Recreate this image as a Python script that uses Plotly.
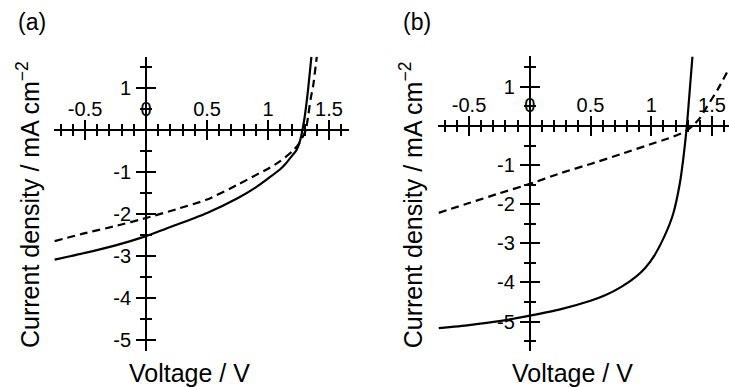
import plotly.graph_objects as go

# ---------------- data ----------------
# Panel (a)
a_solid_v = [-0.75, -0.5, -0.25, 0.0, 0.25, 0.5, 0.75, 0.9, 1.0, 1.1, 1.15, 1.2, 1.233, 1.26, 1.282, 1.30, 1.328, 1.356]
a_solid_j = [-3.08, -2.92, -2.74, -2.52, -2.25, -1.97, -1.62, -1.36, -1.15, -0.93, -0.78, -0.60, -0.48, -0.28, 0.0, 0.30, 0.95, 1.745]
a_dash_v = [-0.75, -0.5, -0.25, 0.0, 0.25, 0.5, 0.75, 0.9, 1.0, 1.1, 1.2, 1.25, 1.29, 1.31, 1.33, 1.35, 1.37, 1.40]
a_dash_j = [-2.64, -2.45, -2.28, -2.09, -1.88, -1.65, -1.30, -1.07, -0.92, -0.74, -0.50, -0.34, -0.13, 0.0, 0.35, 0.75, 1.05, 1.745]

# Panel (b)
b_solid_v = [-0.75, -0.5, -0.25, 0.0, 0.25, 0.5, 0.62, 0.75, 0.875, 0.95, 1.02, 1.11, 1.18, 1.235, 1.265, 1.293, 1.316, 1.339]
b_solid_j = [-5.17, -5.09, -4.99, -4.85, -4.69, -4.47, -4.33, -4.12, -3.85, -3.63, -3.34, -2.81, -2.25, -1.47, -0.80, 0.0, 0.88, 1.77]
b_dash_v = [-0.75, -0.5, -0.25, 0.0, 0.25, 0.5, 0.75, 1.0, 1.12, 1.2, 1.284, 1.34, 1.40, 1.46, 1.55, 1.64]
b_dash_j = [-2.22, -1.97, -1.72, -1.48, -1.21, -0.97, -0.72, -0.46, -0.34, -0.25, -0.13, 0.0, 0.20, 0.50, 0.95, 1.47]

# tick labels
x_tickvals = [-0.5, 0, 0.5, 1, 1.5]
x_ticktext = ["-0.5", "0", "0.5", "1", "1.5"]
y_tickvals_a = [1, -1, -2, -3, -4, -5]
y_ticktext_a = ["1", "-1", "-2", "-3", "-4", "-5"]
y_tickvals_b = [1, -1, -2, -3, -4, -5]
y_ticktext_b = ["1", "-1", "-2", "-3", "-4", "-5"]

x_title = "Voltage / V"
y_title = "Current density / mA cm<sup>\u22122</sup>"
panel_labels = ["(a)", "(b)"]

# ---------------- layout geometry ----------------
W, H = 729, 387
FONT = "Liberation Sans, Arial, Helvetica, sans-serif"

def px_x(p):
    return p / W

def px_y(p):
    return 1 - p / H

xr_a = [-0.755, 1.66]
yr_a = [-5.24, 1.745]
xd_a = [px_x(54), px_x(348.5)]
yd_a = [px_y(350.5), px_y(56.7)]

xr_b = [-0.753, 1.64]
yr_b = [-5.74, 1.79]
xd_b = [px_x(438.3), 1.0]
yd_b = [px_y(350.5), px_y(56)]


def zero_pos(rng, dom):
    return dom[0] + (0 - rng[0]) / (rng[1] - rng[0]) * (dom[1] - dom[0])


def minor_vals(rng, step):
    n0 = int(rng[0] / step) - 1
    n1 = int(rng[1] / step) + 1
    return [round(k * step, 6) for k in range(n0, n1 + 1) if rng[0] <= k * step <= rng[1]]


MAJ_LEN = 9
MIN_LEN = 5
TW = 2
tickfont = dict(family=FONT, size=20, color="black")


def xaxis_main(rng, dom, pos, tv, tt):
    return dict(range=rng, domain=dom, anchor="free", position=pos, side="top",
                showline=True, linewidth=2, linecolor="black",
                showgrid=False, zeroline=False,
                tickmode="array", tickvals=tv, ticktext=tt,
                ticks="outside", ticklen=MAJ_LEN, tickwidth=TW, tickcolor="black",
                tickfont=tickfont, ticklabelstandoff=-4,
                minor=dict(tickmode="array", tickvals=minor_vals(rng, 0.1),
                           ticks="outside", ticklen=MIN_LEN, tickwidth=TW, tickcolor="black",
                           showgrid=False),
                fixedrange=True)


def xaxis_over(over, rng, pos, tv):
    return dict(range=rng, overlaying=over, anchor="free", position=pos, side="bottom",
                showline=False, showgrid=False, zeroline=False,
                tickmode="array", tickvals=tv, showticklabels=False,
                ticks="outside", ticklen=MAJ_LEN, tickwidth=TW, tickcolor="black",
                minor=dict(tickmode="array", tickvals=minor_vals(rng, 0.1),
                           ticks="outside", ticklen=MIN_LEN, tickwidth=TW, tickcolor="black",
                           showgrid=False),
                fixedrange=True)


def yaxis_main(rng, dom, pos, tv, tt):
    return dict(range=rng, domain=dom, anchor="free", position=pos, side="left",
                showline=True, linewidth=2, linecolor="black",
                showgrid=False, zeroline=False,
                tickmode="array", tickvals=tv, ticktext=tt,
                ticks="outside", ticklen=MAJ_LEN, tickwidth=TW, tickcolor="black",
                tickfont=tickfont, ticklabelstandoff=1,
                minor=dict(tickmode="array", tickvals=minor_vals(rng, 0.5),
                           ticks="outside", ticklen=MIN_LEN, tickwidth=TW, tickcolor="black",
                           showgrid=False),
                fixedrange=True)


def yaxis_over(over, rng, pos, tv):
    return dict(range=rng, overlaying=over, anchor="free", position=pos, side="right",
                showline=False, showgrid=False, zeroline=False,
                tickmode="array", tickvals=tv, showticklabels=False,
                ticks="outside", ticklen=MAJ_LEN, tickwidth=TW, tickcolor="black",
                minor=dict(tickmode="array", tickvals=minor_vals(rng, 0.5),
                           ticks="outside", ticklen=MIN_LEN, tickwidth=TW, tickcolor="black",
                           showgrid=False),
                fixedrange=True)


xpos_a = zero_pos(yr_a, yd_a)   # paper y where J = 0
ypos_a = zero_pos(xr_a, xd_a)   # paper x where V = 0
xpos_b = zero_pos(yr_b, yd_b)
ypos_b = zero_pos(xr_b, xd_b)

fig = go.Figure()

line_solid = dict(color="black", width=2.2, shape="spline", smoothing=0.6)
line_dash = dict(color="black", width=2.2, dash="8px,5px", shape="spline", smoothing=0.6)

fig.add_trace(go.Scatter(x=a_solid_v, y=a_solid_j, mode="lines", line=line_solid,
                         xaxis="x", yaxis="y", showlegend=False))
fig.add_trace(go.Scatter(x=a_dash_v, y=a_dash_j, mode="lines", line=line_dash,
                         xaxis="x", yaxis="y", showlegend=False))
fig.add_trace(go.Scatter(x=b_solid_v, y=b_solid_j, mode="lines", line=line_solid,
                         xaxis="x2", yaxis="y2", showlegend=False))
fig.add_trace(go.Scatter(x=b_dash_v, y=b_dash_j, mode="lines", line=line_dash,
                         xaxis="x2", yaxis="y2", showlegend=False))
# empty traces so the overlay axes (opposite-side ticks) are drawn
fig.add_trace(go.Scatter(x=[], y=[], xaxis="x3", yaxis="y3", showlegend=False, hoverinfo="skip"))
fig.add_trace(go.Scatter(x=[], y=[], xaxis="x4", yaxis="y4", showlegend=False, hoverinfo="skip"))

annotations = [
    dict(text=panel_labels[0], x=px_x(31.7), y=px_y(22), xref="paper", yref="paper",
         showarrow=False, xanchor="center", yanchor="middle",
         font=dict(family=FONT, size=23, color="black")),
    dict(text=panel_labels[1], x=px_x(416.7), y=px_y(22), xref="paper", yref="paper",
         showarrow=False, xanchor="center", yanchor="middle",
         font=dict(family=FONT, size=23, color="black")),
    dict(text=x_title, x=px_x(189.5), y=px_y(373.4), xref="paper", yref="paper",
         showarrow=False, xanchor="center", yanchor="middle",
         font=dict(family=FONT, size=25, color="black")),
    dict(text=x_title, x=px_x(572.5), y=px_y(373.4), xref="paper", yref="paper",
         showarrow=False, xanchor="center", yanchor="middle",
         font=dict(family=FONT, size=25, color="black")),
    dict(text=y_title, x=px_x(28), y=px_y(205), xref="paper", yref="paper",
         showarrow=False, xanchor="center", yanchor="middle", textangle=-90,
         font=dict(family=FONT, size=25, color="black")),
    dict(text=y_title, x=px_x(411.3), y=px_y(205), xref="paper", yref="paper",
         showarrow=False, xanchor="center", yanchor="middle", textangle=-90,
         font=dict(family=FONT, size=25, color="black")),
]

fig.update_layout(
    width=W, height=H,
    margin=dict(l=0, r=0, t=0, b=0, pad=0),
    paper_bgcolor="white", plot_bgcolor="rgba(0,0,0,0)",
    showlegend=False,
    font=dict(family=FONT, color="black"),
    xaxis=xaxis_main(xr_a, xd_a, xpos_a, x_tickvals, x_ticktext),
    yaxis=yaxis_main(yr_a, yd_a, ypos_a, y_tickvals_a, y_ticktext_a),
    xaxis3=xaxis_over("x", xr_a, xpos_a, x_tickvals),
    yaxis3=yaxis_over("y", yr_a, ypos_a, y_tickvals_a),
    xaxis2=xaxis_main(xr_b, xd_b, xpos_b, x_tickvals, x_ticktext),
    yaxis2=yaxis_main(yr_b, yd_b, ypos_b, y_tickvals_b, y_ticktext_b),
    xaxis4=xaxis_over("x2", xr_b, xpos_b, x_tickvals),
    yaxis4=yaxis_over("y2", yr_b, ypos_b, y_tickvals_b),
    annotations=annotations,
)

fig.write_html("out.html", config={"displayModeBar": False, "staticPlot": True})
